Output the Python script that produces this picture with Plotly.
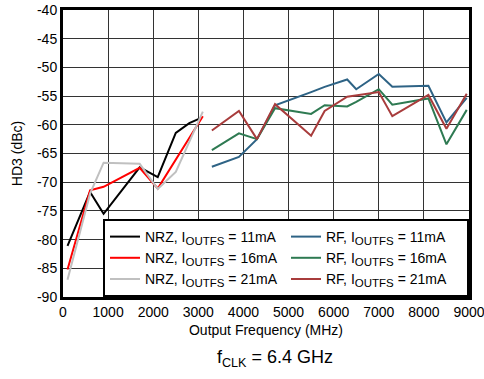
import plotly.graph_objects as go

# NRZ mode data (MHz, dBc)
nrz_freq_11 = [100, 600, 900, 1700, 2100, 2500, 2800, 3000]
nrz_hd3_11 = [-81.1, -71.7, -75.5, -67.4, -69.1, -61.4, -59.7, -59.0]
nrz_freq_16 = [100, 600, 900, 1700, 2100, 3100]
nrz_hd3_16 = [-85.2, -71.4, -70.8, -67.5, -71.1, -58.5]
nrz_freq_21 = [100, 600, 900, 1700, 2100, 2500, 3100]
nrz_hd3_21 = [-87.0, -72.0, -66.6, -66.8, -71.2, -68.2, -57.7]

# RF mode data
rf_freq = [3300, 3900, 4300, 4700, 5500, 5800, 6300, 6500, 7000, 7300, 8100, 8500, 8950]
rf_hd3_11 = [-67.3, -65.6, -62.5, -56.6, -54.3, -53.4, -52.1, -53.8, -51.15, -53.35, -53.2, -59.6, -55.3]
rf_hd3_16 = [-64.4, -61.5, -62.5, -57.1, -58.1, -56.6, -56.8, -56.0, -53.8, -56.5, -55.4, -63.4, -57.4]
rf_hd3_21 = [-61.0, -57.6, -62.5, -56.4, -61.9, -57.6, -55.1, -54.9, -54.3, -58.5, -54.8, -60.7, -54.6]

y_ticks = [-90, -85, -80, -75, -70, -65, -60, -55, -50, -45, -40]
x_ticks = [0, 1000, 2000, 3000, 4000, 5000, 6000, 7000, 8000, 9000]

sub = "I<sub><span style='font-size:11.5px'>OUTFS</span></sub>"
traces = [
    ("NRZ, " + sub + " = 11mA", nrz_freq_11, nrz_hd3_11, "#000000"),
    ("RF, " + sub + " = 11mA", rf_freq, rf_hd3_11, "#2e6385"),
    ("NRZ, " + sub + " = 16mA", nrz_freq_16, nrz_hd3_16, "#ff0000"),
    ("RF, " + sub + " = 16mA", rf_freq, rf_hd3_16, "#2e7a52"),
    ("NRZ, " + sub + " = 21mA", nrz_freq_21, nrz_hd3_21, "#c0c0c0"),
    ("RF, " + sub + " = 21mA", rf_freq, rf_hd3_21, "#a83c3c"),
]

fig = go.Figure()
for name, x, y, c in traces:
    fig.add_trace(go.Scatter(x=x, y=y, mode="lines", name=name,
                             line=dict(color=c, width=2)))

font = "Liberation Sans, Arial, sans-serif"
fig.update_layout(
    width=484, height=379,
    margin=dict(l=63, r=15, t=10, b=82, autoexpand=False),
    paper_bgcolor="white", plot_bgcolor="white",
    font=dict(family=font, size=14, color="black"),
    showlegend=True,
    legend=dict(
        orientation="h", x=1, y=0, xanchor="right", yanchor="bottom",
        bgcolor="white", bordercolor="black", borderwidth=2,
        entrywidth=136, font=dict(size=14, family=font),
        tracegroupgap=0, itemwidth=30,
    ),
    xaxis=dict(
        range=[0, 9000], tickvals=x_ticks, ticktext=[str(v) for v in x_ticks],
        showgrid=True, gridcolor="#333333", gridwidth=1,
        showline=True, linecolor="black", linewidth=3, mirror=True,
        ticks="", zeroline=False, ticklabeloverflow="allow", automargin=False,
        title=dict(text="Output Frequency (MHz)", font=dict(size=14), standoff=7),
        tickfont=dict(size=14),
    ),
    yaxis=dict(
        range=[-90, -40], tickvals=y_ticks, ticktext=[str(v) for v in y_ticks],
        showgrid=True, gridcolor="#333333", gridwidth=1,
        showline=True, linecolor="black", linewidth=3, mirror=True,
        ticks="", zeroline=False, ticklabeloverflow="allow", automargin=False,
        title=dict(text="HD3 (dBc)", font=dict(size=14), standoff=12),
        tickfont=dict(size=14),
    ),
    annotations=[dict(
        text="f<sub>CLK</sub> = 6.4 GHz", x=0.522, y=-0.216,
        xref="paper", yref="paper", showarrow=False,
        font=dict(size=18, family=font), xanchor="center", yanchor="middle",
    )],
)

fig.write_html("out.html",
               config={"displayModeBar": False},
               post_script="document.body.style.margin='0';document.body.style.overflow='hidden';")
